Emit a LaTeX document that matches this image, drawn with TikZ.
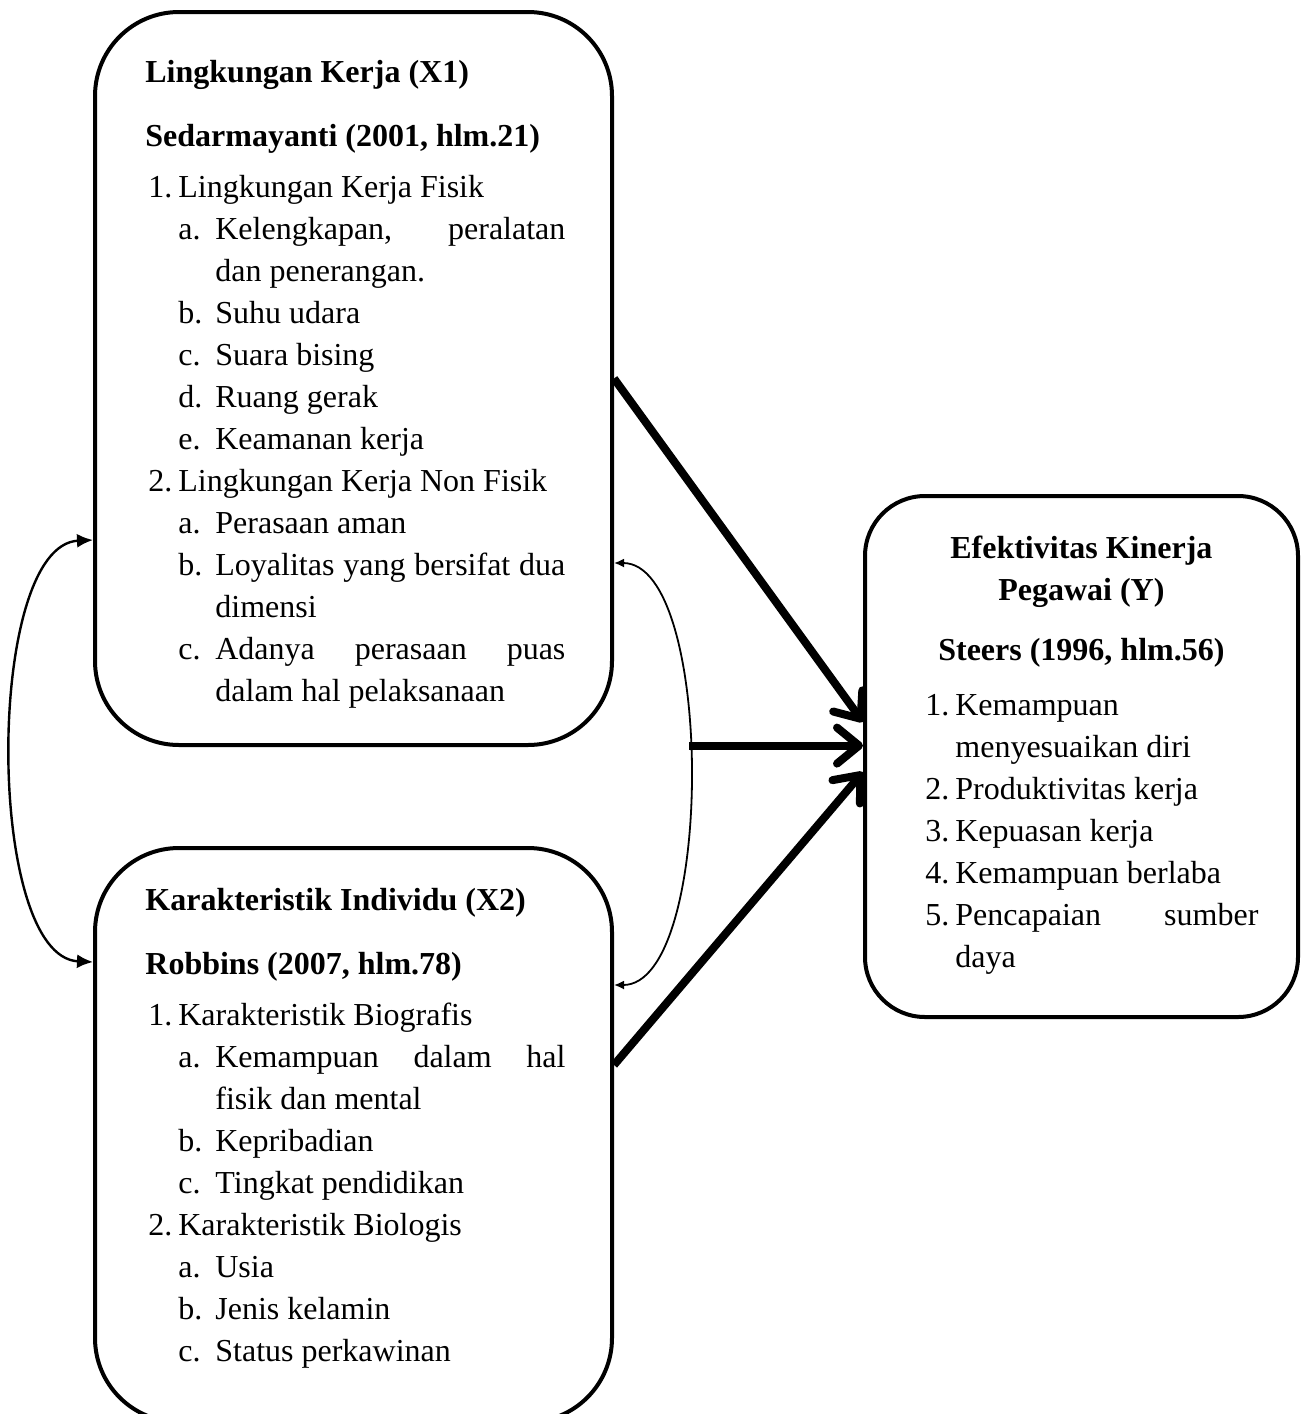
\documentclass[tikz,border=0pt]{standalone}
\usepackage{fontspec}
\setmainfont{Liberation Serif}
\usetikzlibrary{arrows.meta}

\newcommand{\nomor}[1]{\par\hangindent=16.5pt\hangafter=1\noindent\hspace*{1.5pt}\makebox[15pt][l]{#1}}
\newcommand{\huruf}[1]{\par\hangindent=35pt\hangafter=1\noindent\hspace*{16.5pt}\makebox[18.5pt][l]{#1}}

\begin{document}
\begin{tikzpicture}[
    x=0.5pt, y=-0.5pt,
    kotak/.style={draw, line width=2pt, rounded corners=42pt, inner sep=0pt},
    isi/.style={inner sep=0pt, text width=210pt, align=justify,
        font=\fontsize{16}{21}\selectfont,
        execute at begin node={\hyphenpenalty=10000\parindent=0pt}},
    panah/.style={-{Straight Barb[length=11pt, width=18pt, round]}, line width=4pt},
    hubungan/.style={{Latex[length=8pt, width=7pt]}-{Latex[length=8pt, width=7pt]}, line width=1.2pt},
    hubungankecil/.style={{Latex[length=5pt, width=4.5pt]}-{Latex[length=5pt, width=4.5pt]}, line width=0.9pt}
]
    \useasboundingbox (0,0) rectangle (1304,1414);
    \clip (0,0) rectangle (1304,1414);

    \node[kotak, minimum width=258.5pt, minimum height=366.5pt] (x1) at (353.5,378.5) {};
    \node[kotak, minimum width=258.5pt, minimum height=287pt] (x2) at (353.5,1135) {};
    \node[kotak, rounded corners=30pt, minimum width=216.5pt, minimum height=260.5pt] (y) at (1081.5,756.5) {};

    \node[isi, anchor=base west] (x1teks) at (145,82) {%
        \textbf{Lingkungan Kerja (X1)}\par\vspace{11pt}
        \textbf{Sedarmayanti (2001, hlm.21)}\par\vspace{4.5pt}
        \nomor{1.}Lingkungan Kerja Fisik
        \huruf{a.}Kelengkapan, peralatan \linebreak dan penerangan.
        \huruf{b.}Suhu udara
        \huruf{c.}Suara bising
        \huruf{d.}Ruang gerak
        \huruf{e.}Keamanan kerja
        \nomor{2.}Lingkungan Kerja Non Fisik
        \huruf{a.}Perasaan aman
        \huruf{b.}Loyalitas yang bersifat dua \linebreak dimensi
        \huruf{c.}Adanya perasaan puas \linebreak dalam hal pelaksanaan\par};

    \node[isi, anchor=base west] (x2teks) at (145,910) {%
        \textbf{Karakteristik Individu (X2)}\par\vspace{11pt}
        \textbf{Robbins (2007, hlm.78)}\par\vspace{4.5pt}
        \nomor{1.}Karakteristik Biografis
        \huruf{a.}Kemampuan dalam hal \linebreak fisik dan mental
        \huruf{b.}Kepribadian
        \huruf{c.}Tingkat pendidikan
        \nomor{2.}Karakteristik Biologis
        \huruf{a.}Usia
        \huruf{b.}Jenis kelamin
        \huruf{c.}Status perkawinan\par};

    \node[isi, text width=168pt, anchor=base west] (yteks) at (922,558) {%
        {\centering\rightskip=9pt plus 1fil
        \textbf{Efektivitas Kinerja}\par
        \textbf{Pegawai (Y)}\par}\vspace{9pt}
        {\centering\rightskip=9pt plus 1fil
        \textbf{Steers (1996, hlm.56)}\par}\vspace{6.5pt}
        \nomor{1.}Kemampuan\newline menyesuaikan diri
        \nomor{2.}Produktivitas kerja
        \nomor{3.}Kepuasan kerja
        \nomor{4.}Kemampuan berlaba
        \nomor{5.}Pencapaian sumber \linebreak daya\par};

    \draw[hubungan] ([shift={(0,161.5)}]x1.west) .. controls +(-108,5) and +(-108,-5) .. ([shift={(0,-173)}]x2.west);
    \draw[hubungankecil] ([shift={(0,184.5)}]x1.east) .. controls +(101,0) and +(101,0) .. ([shift={(0,-150)}]x2.east) coordinate[pos=0.455] (tengah);

    \draw[panah] (x1.east) -- ([shift={(0,-34.5)}]y.west);
    \draw[panah] (tengah) -- (tengah -| y.west);
    \draw[panah] ([shift={(0,-70)}]x2.east) -- ([shift={(0,15.5)}]y.west);
\end{tikzpicture}
\end{document}
